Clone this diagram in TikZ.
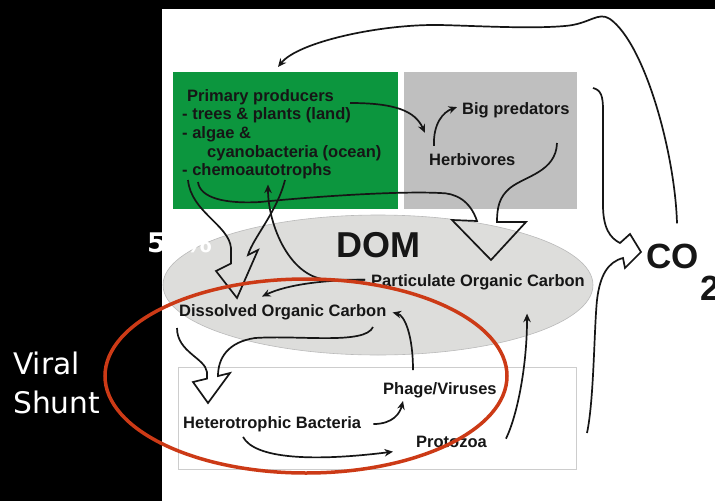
\documentclass[tikz,border=0pt]{standalone}
\usepackage{fontspec}
\setmainfont{Liberation Sans}
\newfontfamily\shuntfont{DejaVu Sans}
\usetikzlibrary{arrows.meta,calc,shapes.geometric}
\definecolor{prodgreen}{RGB}{12,150,62}
\definecolor{predgray}{RGB}{191,191,191}
\definecolor{domgray}{RGB}{221,221,219}
\definecolor{domline}{RGB}{186,186,186}
\definecolor{boxline}{RGB}{205,205,205}
\definecolor{shuntred}{RGB}{204,58,22}
\definecolor{ink}{RGB}{22,22,22}

\tikzset{
  lbl/.style={inner sep=0pt, anchor=base west, text=ink, font=\fontsize{16.5}{18.7}\selectfont\bfseries},
  flow/.style={ink, line width=1.7pt, -{Stealth[length=8.5pt,width=7.5pt]}},
  hollow/.style={ink, line width=1.7pt, line join=miter},
  box/.style={inner sep=0pt, anchor=north west},
}

\begin{document}
\begin{tikzpicture}[x=1pt,y=-1pt]
  \useasboundingbox (0,0) rectangle (715,501);
  \clip (0,0) rectangle (715,501);
  \fill[black] (0,0) rectangle (715,501);
  \fill[white] (162,9) rectangle (715,501);

  % boxes and the DOM pool
  \node[box, fill=prodgreen, minimum width=225pt, minimum height=137pt] (prodbox) at (173,72) {};
  \node[box, fill=predgray, minimum width=173pt, minimum height=137pt] (predbox) at (404,72) {};
  \node[ellipse, fill=domgray, draw=domline, line width=0.6pt, inner sep=0pt,
        minimum width=430pt, minimum height=140pt] (domarea) at (378,285) {};
  \node[box, draw=boxline, line width=0.8pt, minimum width=398pt, minimum height=102pt] (microbox) at (178,367) {};

  % labels
  \node[lbl, anchor=north west, align=left] (prod) at (182,89)
    {\hspace*{5pt}Primary producers\\- trees \& plants (land)\\- algae \&\\\hspace*{25pt}cyanobacteria (ocean)\\- chemoautotrophs};
  \node[lbl] (big) at (462,114.3) {Big predators};
  \node[lbl] (herb) at (429,165) {Herbivores};
  \node[lbl, font=\fontsize{36}{40}\selectfont\bfseries] (domlbl) at (336,257) {DOM};
  \node[lbl] (poc) at (371,286) {Particulate Organic Carbon};
  \node[lbl] (doc) at (179,316.7) {Dissolved Organic Carbon};
  \node[lbl] (phage) at (383,394.3) {Phage/Viruses};
  \node[lbl] (het) at (183,428.3) {Heterotrophic Bacteria};
  \node[lbl] (proto) at (416,447.3) {Protozoa};
  \node[lbl, font=\fontsize{35}{40}\selectfont\bfseries] (co) at (646,268) {CO\kern2pt\raisebox{-32pt}{2}};
  \node[inner sep=0pt, anchor=north west, align=left, text=white,
        font=\shuntfont\fontsize{29.7}{39}\selectfont] (shunt) at (13,352) {Viral\\Shunt};

  % thin arrows
  \draw[flow] ($(prod.north west)+(168,14)$) .. controls +(45,0) and +(-10,-22) .. ($(herb.north west)+(-4,-20)$);
  \draw[flow] ($(herb.north west)+(5,-7)$) .. controls +(-1,-22) and +(-14,5) .. ($(big.west)+(-5,-3)$);
  \draw[flow] ($(co.north west)+(31,-20)$) .. controls +(-2,-70) and +(35,25) .. (610,19)
    .. controls +(-12,-8) and +(25,-2) .. (565,26)
    .. controls +(-35,3) and +(40,1) .. (440,25)
    .. controls +(-60,-1) and +(20,-25) .. ($(prodbox.north west)+(105,-5)$);
  \draw[flow] ($(poc.west)+(-6,-2)$) -- +(-35,0) .. controls +(-40,0) and +(0,40) .. ($(prod.south west)+(86,5)$);
  \draw[flow] ($(poc.west)+(-6,-2)$) .. controls +(-40,0) and +(25,-12) .. ($(doc.north west)+(83,-8)$);
  \draw[flow] ($(phage.north west)+(30,-12)$) .. controls +(0,-35) and +(12,3) .. ($(doc.east)+(6,0)$);
  \draw[flow] ($(het.east)+(12,0)$) .. controls +(20,0) and +(-3,12) .. ($(phage.south west)+(20,3)$);
  \draw[flow] ($(het.south west)+(60,5)$) .. controls +(12,22) and +(-80,10) .. ($(proto.south west)+(-23,4)$);
  \draw[flow] ($(proto.east)+(19,-3)$) .. controls +(12,-25) and +(0,50) .. ($(poc.south east)+(-58,24)$);

  % hollow arrows
  \draw[hollow] (557,143) .. controls (556,172) and (525,176) .. (510,188)
    .. controls (499,197) and (497,208) .. (497,222) -- (526,222) -- (491,260) -- (452,220) -- (477,221)
    .. controls (470,200) and (455,193) .. (440,193) .. controls (400,191) and (320,196) .. (260,202)
    .. controls (225,204) and (200,198) .. (198,182);
  \draw[hollow] (188,180) .. controls (191,212) and (229,225) .. (231,248) -- (231,263.5) -- (216,271)
    -- (237,298) -- (258,250) -- (248,255) .. controls (253,238) and (277,212) .. (285,180);
  \draw[hollow] (177,328) .. controls (177,352) and (205,358) .. (207,372) -- (207,378.6) -- (193,382)
    -- (208,403) -- (230,373) -- (218,376) .. controls (218,358) and (228,342) .. (255,338)
    .. controls (300,335) and (365,345) .. (373,327);
  \draw[hollow] (593,88) .. controls (601,90) and (603,96) .. (603,110) -- (603,205)
    .. controls (603,228) and (610,238) .. (620,243) -- (630,234) -- (641,252) -- (625,268) -- (623,258)
    .. controls (608,262) and (600,275) .. (597,300) .. controls (594,330) and (594,400) .. (587,433);

  % percentage and viral shunt loop
  \node[inner sep=0pt, anchor=base west, text=white, font=\shuntfont\bfseries\fontsize{27}{30}\selectfont] (pct) at (147,252) {50\%};
  \draw[shuntred, line width=3.5pt] (306,376) ellipse [x radius=201pt, y radius=97pt];
\end{tikzpicture}
\end{document}
